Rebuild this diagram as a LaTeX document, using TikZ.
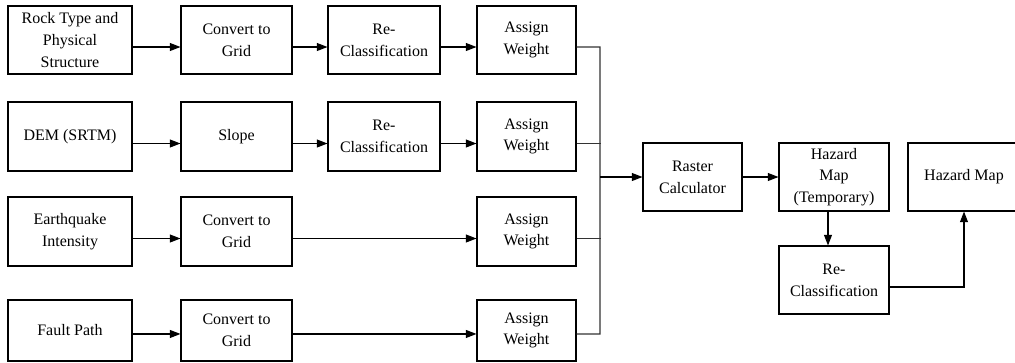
\documentclass[tikz,border=0pt]{standalone}
\usepackage{fontspec}
\setmainfont{Liberation Serif}
\usetikzlibrary{arrows.meta}

\begin{document}
\begin{tikzpicture}[x=0.75pt,y=-0.75pt,
        box/.style={draw,line width=0.8pt,align=center,inner sep=0pt,
            font=\fontsize{12}{16.3}\selectfont},
        arr/.style={line width=0.8pt,-{Triangle[length=8pt,width=6pt]}},
        bus/.style={line width=0.8pt,draw=black!80}]
        \useasboundingbox (0,0) rectangle (1015,362);

        %%%%%%%%% Riga 1 %%%%%%%%%
        \node[box,minimum width=93pt,minimum height=51pt] (rock) at (70,40) {Rock Type and\\Physical\\Structure};
        \node[box,minimum width=83.25pt,minimum height=51pt] (conv1) at (236.5,40) {Convert to\\Grid};
        \node[box,minimum width=84pt,minimum height=51pt] (recl1) at (384,40) {Re-\\Classification};
        \node[box,minimum width=74.25pt,minimum height=51pt] (aw1) at (526.5,40) {Assign\\Weight};

        %%%%%%%%% Riga 2 %%%%%%%%%
        \node[box,minimum width=93pt,minimum height=51.75pt] (dem) at (70,136.5) {DEM (SRTM)};
        \node[box,minimum width=83.25pt,minimum height=51.75pt] (slope) at (236.5,136.5) {Slope};
        \node[box,minimum width=84pt,minimum height=51.75pt] (recl2) at (384,136.5) {Re-\\Classification};
        \node[box,minimum width=74.25pt,minimum height=51.75pt] (aw2) at (526.5,136.5) {Assign\\Weight};

        %%%%%%%%% Riga 3 %%%%%%%%%
        \node[box,minimum width=93pt,minimum height=51.75pt] (quake) at (70,231.5) {Earthquake\\Intensity};
        \node[box,minimum width=83.25pt,minimum height=51.75pt] (conv3) at (236.5,231.5) {Convert to\\Grid};
        \node[box,minimum width=74.25pt,minimum height=51.75pt] (aw3) at (526.5,231.5) {Assign\\Weight};

        %%%%%%%%% Riga 4 %%%%%%%%%
        \node[box,minimum width=93pt,minimum height=45.75pt] (fault) at (70,330.5) {Fault Path};
        \node[box,minimum width=83.25pt,minimum height=45.75pt] (conv4) at (236.5,330.5) {Convert to\\Grid};
        \node[box,minimum width=74.25pt,minimum height=45.75pt] (aw4) at (526.5,330.5) {Assign\\Weight};

        %%%%%%%%% Uscita %%%%%%%%%
        \node[box,minimum width=74.25pt,minimum height=51pt] (raster) at (692.5,177) {Raster\\Calculator};
        \node[box,minimum width=82.5pt,minimum height=51pt] (temp) at (834,177) {Hazard\\Map\\(Temporary)};
        \node[box,minimum width=84pt,minimum height=51pt] (hmap) at (964,177) {Hazard Map};
        \node[box,minimum width=82.5pt,minimum height=51pt] (recl5) at (834,280) {Re-\\Classification};

        %%%%%%%%% Frecce %%%%%%%%%
        \draw[arr] ([yshift=-5.25pt]rock.east) -- ([yshift=-5.25pt]conv1.west);
        \draw[arr] ([yshift=-5.25pt]conv1.east) -- ([yshift=-5.25pt]recl1.west);
        \draw[arr] ([yshift=-5.25pt]recl1.east) -- ([yshift=-5.25pt]aw1.west);
        \draw[arr] ([yshift=-5.25pt]dem.east) -- ([yshift=-5.25pt]slope.west);
        \draw[arr] ([yshift=-5.25pt]slope.east) -- ([yshift=-5.25pt]recl2.west);
        \draw[arr] ([yshift=-5.25pt]recl2.east) -- ([yshift=-5.25pt]aw2.west);
        \draw[arr] ([yshift=-5.25pt]quake.east) -- ([yshift=-5.25pt]conv3.west);
        \draw[arr] ([yshift=-5.25pt]conv3.east) -- ([yshift=-5.25pt]aw3.west);
        \draw[arr] ([yshift=-2.6pt]fault.east) -- ([yshift=-2.6pt]conv4.west);
        \draw[arr] ([yshift=-2.6pt]conv4.east) -- ([yshift=-2.6pt]aw4.west);

        %%%%%%%%% Bus %%%%%%%%%%
        \coordinate (busT) at (600,47);
        \coordinate (busB) at (600,334);
        \draw[bus] ([yshift=-5.25pt]aw1.east) -- (busT) -- (busB) -- ([yshift=-2.6pt]aw4.east);
        \draw[bus] ([yshift=-5.25pt]aw2.east) -- ++(24,0);
        \draw[bus] ([yshift=-5.25pt]aw3.east) -- ++(24,0);
        \draw[arr] (busT |- raster.west) -- (raster.west);
        \draw[arr] (raster.east) -- (temp.west);
        \draw[arr] ([xshift=-4.5pt]temp.south) -- ([xshift=-4.5pt]recl5.north);
        \draw[arr] ([yshift=-5.25pt]recl5.east) -| (hmap.south);
    \end{tikzpicture}
\end{document}
